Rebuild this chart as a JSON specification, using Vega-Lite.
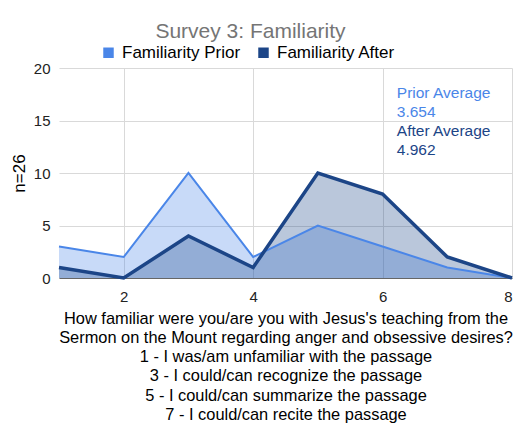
{
  "$schema": "https://vega.github.io/schema/vega-lite/v6.json",
  "width": 453,
  "height": 210,
  "autosize": {"type": "none"},
  "padding": {"left": 59, "top": 68, "right": 17, "bottom": 162},
  "background": "white",
  "config": {
    "font": "Liberation Sans",
    "view": {"stroke": null}
  },
  "title": {
    "text": "Survey 3: Familiarity",
    "fontSize": 21,
    "fontWeight": "normal",
    "color": "#757575",
    "anchor": "middle",
    "dx": -35,
    "offset": 2
  },
  "data": {
    "values": [
      {"score": 1, "series": "Familiarity Prior", "count": 3},
      {"score": 2, "series": "Familiarity Prior", "count": 2},
      {"score": 3, "series": "Familiarity Prior", "count": 10},
      {"score": 4, "series": "Familiarity Prior", "count": 2},
      {"score": 5, "series": "Familiarity Prior", "count": 5},
      {"score": 6, "series": "Familiarity Prior", "count": 3},
      {"score": 7, "series": "Familiarity Prior", "count": 1},
      {"score": 8, "series": "Familiarity Prior", "count": 0},
      {"score": 1, "series": "Familiarity After", "count": 1},
      {"score": 2, "series": "Familiarity After", "count": 0},
      {"score": 3, "series": "Familiarity After", "count": 4},
      {"score": 4, "series": "Familiarity After", "count": 1},
      {"score": 5, "series": "Familiarity After", "count": 10},
      {"score": 6, "series": "Familiarity After", "count": 8},
      {"score": 7, "series": "Familiarity After", "count": 2},
      {"score": 8, "series": "Familiarity After", "count": 0}
    ]
  },
  "encoding": {
    "x": {
      "field": "score",
      "type": "quantitative",
      "scale": {"domain": [1, 8], "nice": false, "zero": false},
      "axis": {
        "values": [2, 4, 6, 8],
        "grid": true,
        "gridColor": "#d9d9d9",
        "domain": true,
        "domainColor": "#666666",
        "ticks": false,
        "tickSize": 0,
        "labelFontSize": 15,
        "labelColor": "#222222",
        "labelPadding": 11,
        "title": [
          "How familiar were you/are you with Jesus's teaching from the",
          "Sermon on the Mount regarding anger and obsessive desires?",
          "1 - I was/am unfamiliar with the passage",
          "3 - I could/can recognize the passage",
          "5 - I could/can summarize the passage",
          "7 - I could/can recite the passage"
        ],
        "titleFontSize": 16.4,
        "titleFontWeight": "normal",
        "titleColor": "#000000",
        "titleLineHeight": 19.3,
        "titlePadding": 6
      }
    },
    "y": {
      "field": "count",
      "type": "quantitative",
      "scale": {"domain": [0, 20], "nice": false},
      "axis": {
        "values": [0, 5, 10, 15, 20],
        "grid": true,
        "gridColor": "#d9d9d9",
        "domain": false,
        "ticks": false,
        "labelFontSize": 15,
        "labelColor": "#222222",
        "labelPadding": 9,
        "title": "n=26",
        "titleFontSize": 17,
        "titleFontWeight": "normal",
        "titleColor": "#000000",
        "titlePadding": 5
      }
    }
  },
  "layer": [
    {
      "mark": {"type": "area", "fillOpacity": 0.3},
      "encoding": {
        "y": {"field": "count", "type": "quantitative", "stack": null},
        "color": {
          "field": "series",
          "type": "nominal",
          "scale": {
            "domain": ["Familiarity Prior", "Familiarity After"],
            "range": ["#4a86e8", "#1c4587"]
          },
          "legend": {
            "title": null,
            "orient": "none",
            "direction": "horizontal",
            "legendX": 41,
            "legendY": -24,
            "symbolType": "square",
            "symbolSize": 110,
            "symbolOpacity": 1,
            "symbolStrokeWidth": 0,
            "labelFontSize": 17,
            "labelColor": "#000000",
            "columnPadding": 14,
            "labelOffset": 5
          }
        }
      }
    },
    {
      "transform": [{"filter": "datum.series === 'Familiarity Prior'"}],
      "mark": {"type": "line", "color": "#4a86e8", "strokeWidth": 2}
    },
    {
      "transform": [{"filter": "datum.series === 'Familiarity After'"}],
      "mark": {"type": "line", "color": "#1c4587", "strokeWidth": 3.5}
    },
    {
      "data": {"values": [
        {"label": "Prior Average", "lx": 6.22, "ly": 17.62, "who": "Prior"},
        {"label": "3.654", "lx": 6.22, "ly": 15.81, "who": "Prior"},
        {"label": "After Average", "lx": 6.22, "ly": 14.0, "who": "After"},
        {"label": "4.962", "lx": 6.22, "ly": 12.19, "who": "After"}
      ]},
      "mark": {"type": "text", "align": "left", "baseline": "middle", "fontSize": 15.5},
      "encoding": {
        "x": {"field": "lx", "type": "quantitative"},
        "y": {"field": "ly", "type": "quantitative"},
        "text": {"field": "label"},
        "color": {
          "field": "who",
          "type": "nominal",
          "scale": {"domain": ["Prior", "After"], "range": ["#4a86e8", "#1c4587"]},
          "legend": null
        }
      }
    }
  ],
  "resolve": {"scale": {"color": "independent"}}
}
